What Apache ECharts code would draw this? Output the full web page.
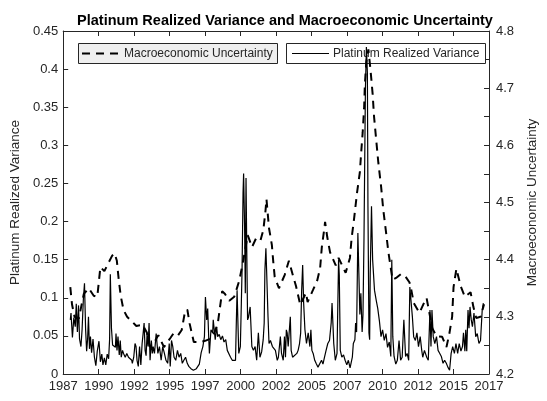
<!DOCTYPE html>
<html>
<head>
<meta charset="utf-8">
<script src="https://cdn.jsdelivr.net/npm/echarts@6/dist/echarts.min.js"></script>
<style>
  html, body { margin: 0; padding: 0; background: #fff; }
  #chart { width: 547px; height: 401px; }
</style>
</head>
<body>
<div id="chart"></div>
<script>
// Platinum realized variance (left axis)
var rvYears = [
  1987.50, 1987.55, 1987.65, 1987.75, 1987.85, 1987.92, 1988.00, 1988.08, 1988.15, 1988.25,
  1988.33, 1988.42, 1988.50, 1988.58, 1988.65, 1988.72, 1988.78, 1988.85, 1988.92, 1989.00,
  1989.10, 1989.20, 1989.30, 1989.40, 1989.52, 1989.62, 1989.72, 1989.80, 1989.90, 1990.00,
  1990.10, 1990.20, 1990.27, 1990.32, 1990.40, 1990.48, 1990.56, 1990.68, 1990.72, 1990.79,
  1990.86, 1990.95, 1991.02, 1991.09, 1991.18, 1991.25, 1991.37, 1991.48, 1991.60, 1991.71,
  1991.83, 1991.87, 1991.97, 1992.06, 1992.13, 1992.20, 1992.29, 1992.38, 1992.47, 1992.56,
  1992.63, 1992.70, 1992.77, 1992.84, 1992.91, 1992.98, 1993.05, 1993.12, 1993.21, 1993.28,
  1993.34, 1993.43, 1993.55, 1993.67, 1993.78, 1993.90, 1994.01, 1994.13, 1994.24, 1994.36,
  1994.47, 1994.54, 1994.63, 1994.72, 1994.81, 1994.93, 1995.05, 1995.16, 1995.28, 1995.39,
  1995.50, 1995.62, 1995.74, 1995.85, 1996.00, 1996.17, 1996.38, 1996.59, 1996.72, 1996.84,
  1996.95, 1997.02, 1997.11, 1997.18, 1997.25, 1997.30, 1997.41, 1997.53, 1997.57, 1997.71,
  1997.81, 1997.88, 1997.99, 1998.10, 1998.22, 1998.33, 1998.45, 1998.56, 1998.68, 1998.79,
  1998.91, 1999.02, 1999.14, 1999.19, 1999.25, 1999.32, 1999.37, 1999.48, 1999.55, 1999.60,
  1999.67, 1999.71, 1999.78, 1999.83, 1999.88, 1999.94, 1999.99, 2000.05, 2000.17, 2000.29,
  2000.40, 2000.52, 2000.63, 2000.75, 2000.86, 2000.98, 2001.09, 2001.16, 2001.21, 2001.28,
  2001.33, 2001.43, 2001.50, 2001.60, 2001.74, 2001.84, 2001.95, 2002.08, 2002.16, 2002.30,
  2002.38, 2002.50, 2002.59, 2002.66, 2002.72, 2002.78, 2002.85, 2003.00, 2003.06, 2003.16,
  2003.30, 2003.46, 2003.55, 2003.65, 2003.73, 2003.80, 2003.87, 2003.94, 2004.03, 2004.14,
  2004.26, 2004.38, 2004.45, 2004.52, 2004.61, 2004.72, 2004.84, 2004.95, 2005.07, 2005.20,
  2005.30, 2005.41, 2005.52, 2005.64, 2005.76, 2005.88, 2005.94, 2006.00, 2006.06, 2006.17,
  2006.29, 2006.40, 2006.45, 2006.52, 2006.63, 2006.75, 2006.86, 2006.98, 2007.09, 2007.21,
  2007.28, 2007.37, 2007.44, 2007.55, 2007.60, 2007.67, 2007.76, 2007.83, 2007.90, 2007.97,
  2008.06, 2008.12, 2008.19, 2008.29, 2008.36, 2008.43, 2008.47, 2008.54, 2008.59, 2008.63,
  2008.72, 2008.80, 2008.93, 2009.05, 2009.16, 2009.28, 2009.39, 2009.50, 2009.62, 2009.74,
  2009.85, 2009.97, 2010.08, 2010.15, 2010.22, 2010.31, 2010.43, 2010.54, 2010.66, 2010.77,
  2010.88, 2011.00, 2011.12, 2011.23, 2011.34, 2011.42, 2011.50, 2011.60, 2011.69, 2011.81,
  2011.92, 2012.03, 2012.15, 2012.26, 2012.33, 2012.45, 2012.61, 2012.72, 2012.84, 2012.91,
  2012.98, 2013.07, 2013.18, 2013.30, 2013.41, 2013.53, 2013.64, 2013.76, 2013.87, 2013.99,
  2014.10, 2014.22, 2014.33, 2014.44, 2014.56, 2014.67, 2014.79, 2014.90, 2015.02, 2015.13,
  2015.20, 2015.30, 2015.36, 2015.43, 2015.52, 2015.59, 2015.66, 2015.75, 2015.83, 2015.94,
  2016.06, 2016.17, 2016.29, 2016.40, 2016.52, 2016.60
];
var rvValues = [
  0.071, 0.080, 0.048, 0.074, 0.062, 0.092, 0.055, 0.090, 0.046, 0.036,
  0.058, 0.098, 0.119, 0.058, 0.030, 0.046, 0.075, 0.033, 0.049, 0.028,
  0.046, 0.022, 0.011, 0.030, 0.043, 0.016, 0.026, 0.012, 0.021, 0.012,
  0.026, 0.020, 0.046, 0.131, 0.060, 0.038, 0.040, 0.035, 0.053, 0.031,
  0.049, 0.025, 0.044, 0.022, 0.031, 0.027, 0.022, 0.027, 0.022, 0.020,
  0.018, 0.014, 0.022, 0.040, 0.036, 0.018, 0.010, 0.036, 0.012, 0.040,
  0.053, 0.067, 0.031, 0.024, 0.053, 0.036, 0.067, 0.018, 0.044, 0.027,
  0.036, 0.027, 0.053, 0.027, 0.036, 0.018, 0.036, 0.027, 0.018, 0.014,
  0.040, 0.010, 0.044, 0.036, 0.022, 0.018, 0.031, 0.022, 0.027, 0.014,
  0.018, 0.022, 0.014, 0.010, 0.007, 0.005, 0.007, 0.013, 0.028, 0.036,
  0.049, 0.101, 0.071, 0.086, 0.049, 0.027, 0.058, 0.054, 0.071, 0.045,
  0.062, 0.049, 0.052, 0.045, 0.050, 0.042, 0.045, 0.031, 0.033, 0.022,
  0.018, 0.020, 0.018, 0.062, 0.110, 0.060, 0.027, 0.036, 0.093, 0.136,
  0.237, 0.263, 0.193, 0.106, 0.257, 0.150, 0.071, 0.074, 0.088, 0.036,
  0.031, 0.036, 0.018, 0.054, 0.022, 0.029, 0.045, 0.067, 0.136, 0.165,
  0.136, 0.075, 0.040, 0.044, 0.036, 0.037, 0.031, 0.018, 0.022, 0.049,
  0.027, 0.018, 0.049, 0.022, 0.058, 0.054, 0.036, 0.075, 0.031, 0.022,
  0.022, 0.027, 0.031, 0.040, 0.054, 0.110, 0.143, 0.093, 0.058, 0.040,
  0.054, 0.036, 0.058, 0.031, 0.027, 0.018, 0.013, 0.009, 0.011, 0.018,
  0.013, 0.022, 0.031, 0.040, 0.044, 0.067, 0.093, 0.067, 0.040, 0.018,
  0.027, 0.150, 0.130, 0.031, 0.022, 0.025, 0.018, 0.012, 0.018, 0.008,
  0.006, 0.022, 0.040, 0.045, 0.067, 0.055, 0.185, 0.132, 0.078, 0.106,
  0.055, 0.078, 0.176, 0.373, 0.429, 0.395, 0.219, 0.054, 0.045, 0.132,
  0.220, 0.150, 0.110, 0.097, 0.086, 0.069, 0.049, 0.058, 0.044, 0.053,
  0.035, 0.042, 0.023, 0.150, 0.049, 0.023, 0.013, 0.018, 0.044, 0.018,
  0.022, 0.071, 0.023, 0.027, 0.018, 0.114, 0.097, 0.075, 0.049, 0.044,
  0.054, 0.036, 0.049, 0.031, 0.022, 0.031, 0.022, 0.018, 0.084, 0.036,
  0.084, 0.049, 0.040, 0.049, 0.031, 0.027, 0.023, 0.014, 0.018, 0.014,
  0.009, 0.005, 0.027, 0.036, 0.027, 0.040, 0.027, 0.040, 0.030, 0.036,
  0.054, 0.030, 0.058, 0.030, 0.084, 0.060, 0.088, 0.071, 0.062, 0.080,
  0.049, 0.053, 0.040, 0.044, 0.084, 0.093
];

// Macroeconomic uncertainty (right axis)
var muYears = [
  1987.50, 1987.62, 1987.80, 1988.10, 1988.45, 1988.80, 1989.15, 1989.40, 1989.62, 1989.90,
  1990.20, 1990.45, 1990.62, 1990.78, 1990.90, 1991.05, 1991.25, 1991.50, 1991.80, 1992.15,
  1992.60, 1992.90, 1993.10, 1993.35, 1993.70, 1994.10, 1994.55, 1994.80, 1995.10, 1995.35,
  1995.60, 1995.75, 1995.90, 1996.20, 1996.65, 1997.00, 1997.40, 1997.70, 1997.90, 1998.20,
  1998.40, 1998.70, 1999.05, 1999.40, 1999.62, 2000.00, 2000.30, 2000.60, 2000.90, 2001.10,
  2001.25, 2001.32, 2001.50, 2001.70, 2001.80, 2001.90, 2002.20, 2002.60, 2002.90, 2003.20,
  2003.40, 2003.70, 2004.10, 2004.22, 2004.60, 2004.90, 2005.10, 2005.22, 2005.40, 2005.45,
  2005.60, 2005.80, 2006.20, 2006.40, 2006.90, 2007.20, 2007.32, 2007.50, 2007.70, 2007.90,
  2008.00, 2008.10, 2008.20, 2008.25, 2008.35, 2008.50, 2008.65, 2008.80, 2008.90, 2009.05,
  2009.20, 2009.40, 2009.55, 2009.75, 2009.90, 2010.20, 2010.45, 2010.80, 2011.10, 2011.40,
  2011.50, 2011.70, 2012.10, 2012.45, 2012.60, 2013.00, 2013.30, 2013.70, 2014.00, 2014.20,
  2014.40, 2014.50, 2014.70, 2015.00, 2015.30, 2015.70, 2015.90, 2016.10, 2016.40, 2016.65
];
var muValues = [
  4.352, 4.322, 4.300, 4.297, 4.340, 4.350, 4.337, 4.335, 4.387, 4.380,
  4.395, 4.407, 4.411, 4.398, 4.368, 4.337, 4.312, 4.300, 4.293, 4.284,
  4.286, 4.272, 4.248, 4.252, 4.268, 4.247, 4.263, 4.272, 4.268, 4.277,
  4.312, 4.312, 4.289, 4.256, 4.256, 4.258, 4.262, 4.275, 4.290, 4.345,
  4.340, 4.328, 4.335, 4.363, 4.390, 4.443, 4.422, 4.438, 4.434, 4.452,
  4.485, 4.506, 4.455, 4.426, 4.396, 4.370, 4.350, 4.373, 4.398, 4.371,
  4.354, 4.321, 4.342, 4.326, 4.347, 4.364, 4.385, 4.422, 4.455, 4.466,
  4.440, 4.413, 4.390, 4.403, 4.377, 4.403, 4.438, 4.473, 4.517, 4.553,
  4.590, 4.623, 4.665, 4.705, 4.745, 4.768, 4.732, 4.690, 4.650, 4.610,
  4.570, 4.527, 4.487, 4.447, 4.415, 4.365, 4.368, 4.375, 4.371, 4.360,
  4.350, 4.324, 4.307, 4.326, 4.333, 4.280, 4.266, 4.265, 4.247, 4.270,
  4.300, 4.352, 4.384, 4.354, 4.335, 4.343, 4.317, 4.298, 4.300, 4.322
];

var rvData = rvYears.map(function (y, i) { return [y, rvValues[i]]; });
var muData = muYears.map(function (y, i) { return [y, muValues[i]]; });

var font = "'Liberation Sans', Arial, Helvetica, sans-serif";
var ink = '#262626';

var chart = echarts.init(document.getElementById('chart'));
var option = {
  animation: false,
  backgroundColor: '#fff',
  title: {
    text: 'Platinum Realized Variance and Macroeconomic Uncertainty',
    left: 280,
    textAlign: 'center',
    top: 8,
    textStyle: { fontFamily: font, fontSize: 14.5, fontWeight: 'bold', color: '#000' }
  },
  grid: { left: 62, right: 50, top: 31, bottom: 27, show: false },
  xAxis: [
    {
      type: 'value',
      min: 1987,
      max: 2017,
      interval: 2.5,
      position: 'bottom',
      axisLine: { lineStyle: { color: ink, width: 1 } },
      axisTick: { inside: true, length: 5, lineStyle: { color: ink } },
      axisLabel: {
        margin: 6,
        fontFamily: font,
        fontSize: 13,
        color: ink,
        formatter: function (v) { return String(Math.round(v)); }
      },
      splitLine: { show: false }
    },
    {
      type: 'value',
      min: 1987,
      max: 2017,
      interval: 2.5,
      position: 'top',
      axisLine: { lineStyle: { color: ink, width: 1 } },
      axisTick: { inside: true, length: 5, lineStyle: { color: ink } },
      axisLabel: { show: false },
      splitLine: { show: false }
    }
  ],
  yAxis: [
    {
      type: 'value',
      min: 0,
      max: 0.45,
      interval: 0.05,
      position: 'left',
      name: 'Platinum Realized Variance',
      nameLocation: 'middle',
      nameGap: 35,
      nameTextStyle: { fontFamily: font, fontSize: 13.5, color: ink },
      axisLine: { show: true, lineStyle: { color: ink, width: 1 } },
      axisTick: { show: true, inside: true, length: 5, lineStyle: { color: ink } },
      axisLabel: {
        margin: 5,
        fontFamily: font,
        fontSize: 13,
        color: ink,
        formatter: function (v) { return String(Math.round(v * 100) / 100); }
      },
      splitLine: { show: false }
    },
    {
      type: 'value',
      min: 4.2,
      max: 4.8,
      interval: 0.05,
      position: 'right',
      name: 'Macroeconomic Uncertainty',
      nameLocation: 'middle',
      nameGap: 33,
      nameTextStyle: { fontFamily: font, fontSize: 13.5, color: ink },
      axisLine: { show: true, lineStyle: { color: ink, width: 1 } },
      axisTick: { show: true, inside: true, length: 5, lineStyle: { color: ink } },
      axisLabel: {
        margin: 7,
        fontFamily: font,
        fontSize: 13,
        color: ink,
        formatter: function (v) {
          var t = v * 10;
          return Math.abs(t - Math.round(t)) < 1e-6 ? String(Math.round(t) / 10) : '';
        }
      },
      splitLine: { show: false }
    }
  ],
  // legend boxes sit under the lines, as in the reference
  graphic: {
    elements: [
      {
        type: 'rect', z: 1,
        shape: { x: 78.5, y: 43.5, width: 199, height: 20 },
        style: { fill: '#efefef', stroke: ink, lineWidth: 1 }
      },
      {
        type: 'line', z: 1,
        shape: { x1: 82, y1: 53.5, x2: 118, y2: 53.5 },
        style: { stroke: '#000', lineWidth: 2, lineDash: [8, 6] }
      },
      {
        type: 'text', z: 1, x: 124, y: 53.5,
        style: { text: 'Macroeconomic Uncertainty', fill: ink, font: '12px ' + font, textVerticalAlign: 'middle' }
      },
      {
        type: 'rect', z: 1,
        shape: { x: 286.5, y: 43.5, width: 199, height: 20 },
        style: { fill: '#fff', stroke: ink, lineWidth: 1 }
      },
      {
        type: 'line', z: 1,
        shape: { x1: 292, y1: 53.5, x2: 329, y2: 53.5 },
        style: { stroke: '#000', lineWidth: 1 }
      },
      {
        type: 'text', z: 1, x: 333, y: 53.5,
        style: { text: 'Platinum Realized Variance', fill: ink, font: '12px ' + font, textVerticalAlign: 'middle' }
      }
    ]
  },
  series: [
    {
      name: 'Macroeconomic Uncertainty',
      type: 'line',
      xAxisIndex: 0,
      yAxisIndex: 1,
      data: muData,
      symbol: 'none',
      z: 3,
      lineStyle: { color: '#000', width: 2, type: [8, 6] }
    },
    {
      name: 'Platinum Realized Variance',
      type: 'line',
      xAxisIndex: 0,
      yAxisIndex: 0,
      data: rvData,
      symbol: 'none',
      z: 4,
      lineStyle: { color: '#000', width: 1.2 }
    }
  ]
};
chart.setOption(option);
</script>
</body>
</html>
